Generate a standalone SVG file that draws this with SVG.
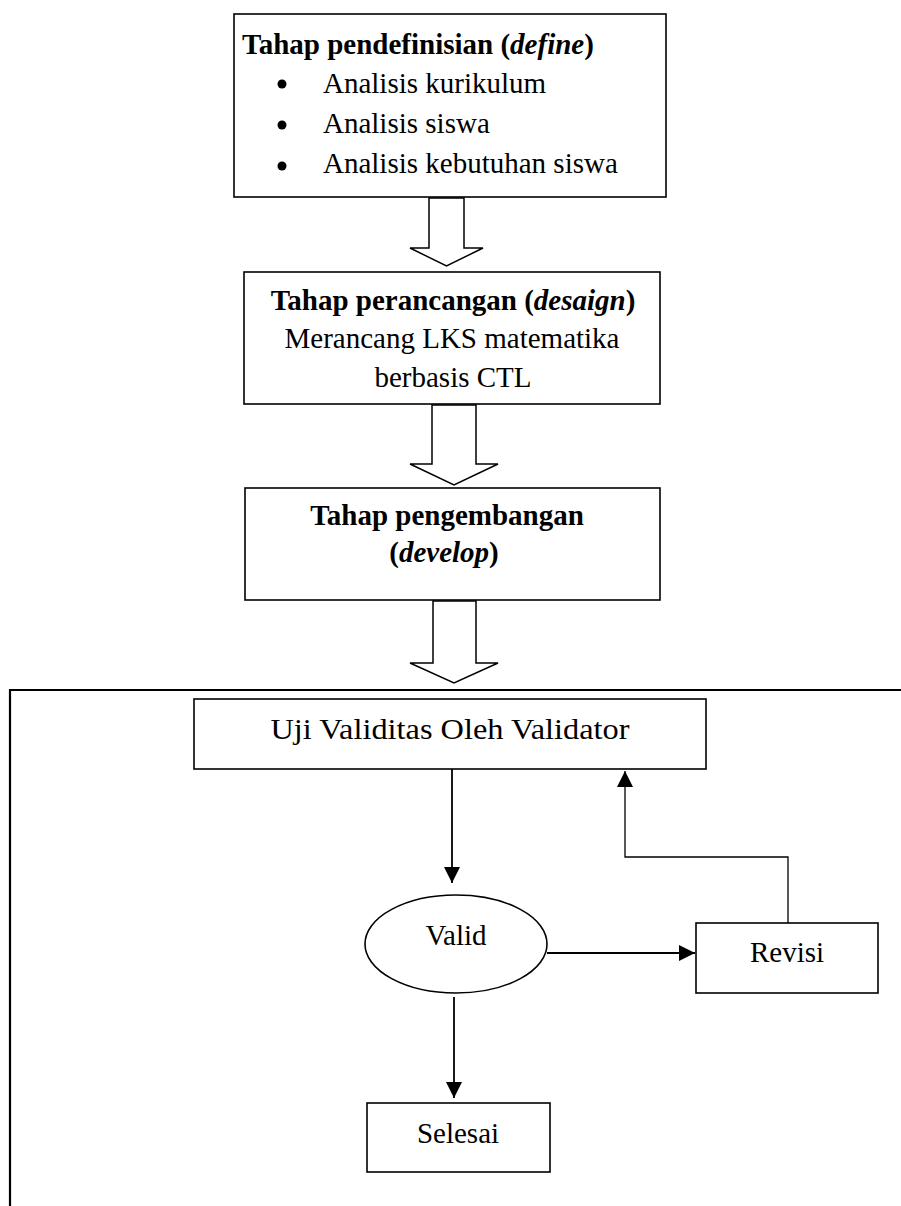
<svg xmlns="http://www.w3.org/2000/svg" width="901" height="1206" viewBox="0 0 901 1206">
<style>
.box{fill:#fff;stroke:#000;stroke-width:1.6}
.blk{fill:#fff;stroke:#000;stroke-width:1.5;stroke-linejoin:miter}
.t{font-family:"Liberation Serif","Times New Roman",serif;font-size:29px;fill:#000}
.b{font-weight:bold}
.c{text-anchor:middle}
.ln{fill:none;stroke:#000;stroke-width:1.8}
.thin{fill:none;stroke:#000;stroke-width:1.3}
</style>
<defs>
<marker id="ah" markerWidth="16" markerHeight="16" refX="16" refY="8" orient="auto" markerUnits="userSpaceOnUse" viewBox="0 0 16 16">
<path d="M0,0 L16,8 L0,16 Z" fill="#000"/>
</marker>
</defs>
<rect width="901" height="1206" fill="#fff"/>

<g id="outer">
<path d="M10,1206 V690 H901" fill="none" stroke="#000" stroke-width="2.2"/>
</g>

<g id="define">
<rect class="box" x="234" y="14" width="432" height="183"/>
<text class="t b" x="242" y="54">Tahap pendefinisian (<tspan font-style="italic">define</tspan>)</text>
<circle cx="282" cy="84" r="4.5"/>
<text class="t" x="323" y="93">Analisis kurikulum</text>
<circle cx="282" cy="125" r="4.5"/>
<text class="t" x="323" y="133">Analisis siswa</text>
<circle cx="282" cy="166" r="4.5"/>
<text class="t" x="323" y="173">Analisis kebutuhan siswa</text>
</g>

<g id="desaign">
<rect class="box" x="244" y="272" width="416" height="132"/>
<text class="t b c" x="453" y="310">Tahap perancangan (<tspan font-style="italic">desaign</tspan>)</text>
<text class="t c" x="452" y="348">Merancang LKS matematika</text>
<text class="t c" x="453" y="387">berbasis CTL</text>
</g>

<g id="develop">
<rect class="box" x="245" y="488" width="415" height="112"/>
<text class="t b c" x="447" y="525">Tahap pengembangan</text>
<text class="t b c" x="444" y="562">(<tspan font-style="italic">develop</tspan>)</text>
</g>

<g id="uji">
<rect class="box" x="194" y="699" width="512" height="70"/>
<text class="t c" x="450" y="739" font-size="30" textLength="359" lengthAdjust="spacingAndGlyphs">Uji Validitas Oleh Validator</text>
</g>

<g id="valid">
<ellipse class="box" cx="456" cy="944" rx="91" ry="49"/>
<text class="t c" x="456" y="945" font-size="30">Valid</text>
</g>

<g id="revisi">
<rect class="box" x="696" y="923" width="182" height="70"/>
<text class="t c" x="787" y="962" font-size="30">Revisi</text>
</g>

<g id="selesai">
<rect class="box" x="367" y="1103" width="183" height="69"/>
<text class="t c" x="458" y="1143" font-size="30">Selesai</text>
</g>

<g id="connectors">
<polygon class="blk" points="429,198 464,198 464,248 483,248 446.5,266 410,248 429,248"/>
<polygon class="blk" points="432,405 476,405 476,464 498,464 454,485 410,464 432,464"/>
<polygon class="blk" points="433,601 476,601 476,663 498,663 454,683 410,663 433,663"/>
<line class="ln" x1="452" y1="769" x2="452" y2="883" marker-end="url(#ah)"/>
<line class="ln" x1="547" y1="953" x2="695" y2="953" marker-end="url(#ah)"/>
<line class="ln" x1="454" y1="997" x2="454" y2="1098" marker-end="url(#ah)"/>
<polyline class="thin" points="788,923 788,857 625,857 625,771" marker-end="url(#ah)"/>
</g>
</svg>
